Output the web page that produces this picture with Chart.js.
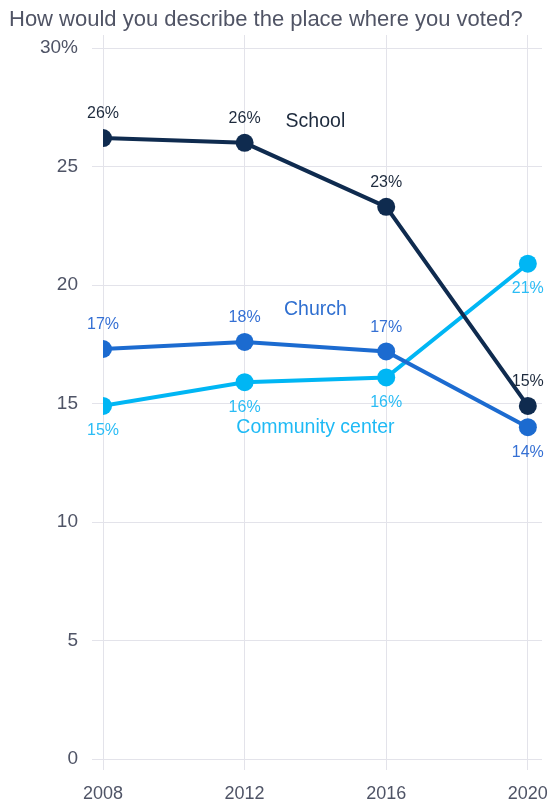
<!DOCTYPE html>
<html>
<head>
<meta charset="utf-8">
<script src="https://cdn.jsdelivr.net/npm/chart.js@4.4.1/dist/chart.umd.min.js"></script>
<style>
  html, body { margin: 0; padding: 0; background: #fff; }
  #wrap { width: 551px; height: 803px; position: relative; }
</style>
</head>
<body>
<div id="wrap"><canvas id="chart"></canvas></div>
<script>
const years = [2008, 2012, 2016, 2020];
const school = [26.2, 26.0, 23.3, 14.9];
const church = [17.3, 17.6, 17.2, 14.0];
const community = [14.9, 15.9, 16.1, 20.9];
const yTicks = [0, 5, 10, 15, 20, 25, 30];

const titleText = "How would you describe the place where you voted?";
const FONT = "'Liberation Sans', Arial, sans-serif";

// series name labels, placed in data space
const seriesNames = [
  { text: "School", x: 2014, y: 26.9, color: "#1d2a3d" },
  { text: "Church", x: 2014, y: 18.95, color: "#2f6fd0" },
  { text: "Community center", x: 2014, y: 13.97, color: "#1fbaf5" },
];

function toPoints(vals) {
  return vals.map((v, i) => ({ x: years[i], y: v }));
}

const extras = {
  id: "extras",
  afterDatasetsDraw(chart) {
    const ctx = chart.ctx;
    const xs = chart.scales.x, ys = chart.scales.y;
    ctx.save();
    // title
    ctx.font = "22px " + FONT;
    ctx.fillStyle = "#505465";
    ctx.textAlign = "left";
    ctx.textBaseline = "middle";
    ctx.fillText(titleText, 9, 20);

    // value labels
    ctx.font = "16px " + FONT;
    ctx.textAlign = "center";
    chart.data.datasets.forEach((ds) => {
      ds.data.forEach((p, i) => {
        const px = xs.getPixelForValue(p.x);
        const py = ys.getPixelForValue(p.y);
        const above = ds.labelPos[i] === "above";
        ctx.fillStyle = ds.labelColor;
        ctx.fillText(Math.round(p.y) + "%", px, above ? py - 24 : py + 25);
      });
    });

    // series names
    ctx.font = "19.5px " + FONT;
    seriesNames.forEach((s) => {
      ctx.fillStyle = s.color;
      ctx.fillText(s.text, xs.getPixelForValue(s.x), ys.getPixelForValue(s.y));
    });
    ctx.restore();
  },
};

new Chart(document.getElementById("chart"), {
  type: "line",
  data: {
    datasets: [
      {
        label: "School",
        data: toPoints(school),
        borderColor: "#0f2b4f",
        backgroundColor: "#0f2b4f",
        labelColor: "#1d2a3d",
        labelPos: ["above", "above", "above", "above"],
      },
      {
        label: "Church",
        data: toPoints(church),
        borderColor: "#1c6bd0",
        backgroundColor: "#1c6bd0",
        labelColor: "#3570d4",
        labelPos: ["above", "above", "above", "below"],
      },
      {
        label: "Community center",
        data: toPoints(community),
        borderColor: "#00b6f4",
        backgroundColor: "#00b6f4",
        labelColor: "#2bbcf5",
        labelPos: ["below", "below", "below", "below"],
      },
    ],
  },
  options: {
    responsive: true,
    maintainAspectRatio: false,
    animation: false,
    layout: { padding: { top: 35, right: 9, left: 0, bottom: 0 } },
    elements: {
      line: { borderWidth: 4, tension: 0 },
      point: { radius: 9, borderWidth: 0, hoverRadius: 9 },
    },
    plugins: {
      legend: { display: false },
      tooltip: { enabled: false },
    },
    scales: {
      x: {
        type: "linear",
        min: 2008,
        max: 2020.4,
        afterBuildTicks: (scale) => {
          scale.ticks = years.map((v) => ({ value: v }));
        },
        afterFit: (scale) => {
          scale.height = 44;
          scale.paddingLeft = 0;
          scale.paddingRight = 0;
        },
        grid: { color: "#e3e3ea", tickLength: 11, drawTicks: true },
        border: { display: false },
        ticks: {
          color: "#4f5466",
          font: { size: 18, family: FONT },
          padding: 13,
          maxRotation: 0,
          callback: (v) => String(v),
        },
      },
      y: {
        type: "linear",
        min: 0,
        max: 30.55,
        afterBuildTicks: (scale) => {
          scale.ticks = yTicks.map((v) => ({ value: v }));
        },
        afterFit: (scale) => {
          scale.width = 103;
          scale.paddingTop = 0;
          scale.paddingBottom = 0;
        },
        grid: { color: "#e3e3ea", tickLength: 11, drawTicks: true },
        border: { display: false },
        ticks: {
          color: "#4f5466",
          font: { size: 19, family: FONT },
          padding: 14,
          callback: (v) => (v === 30 ? "30%" : String(v)),
        },
      },
    },
  },
  plugins: [extras],
});
</script>
</body>
</html>
